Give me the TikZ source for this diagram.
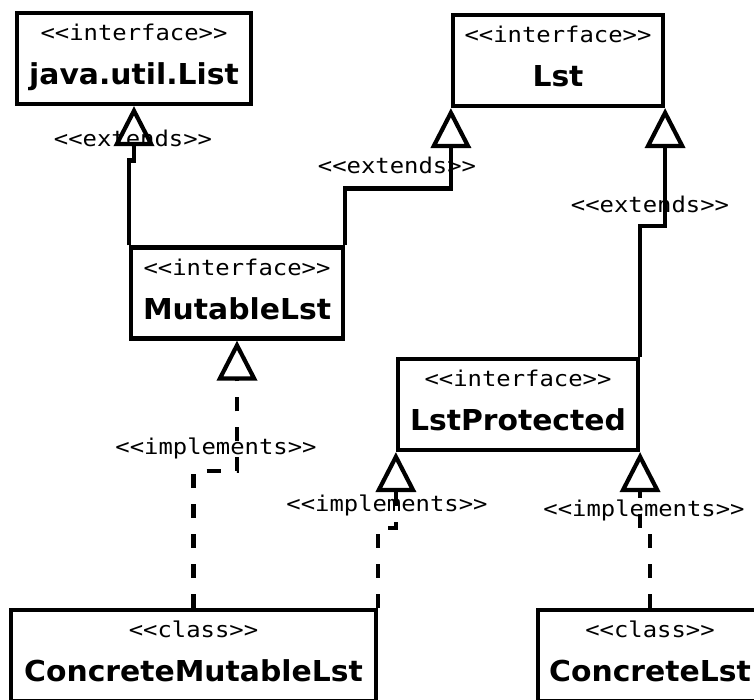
\documentclass[tikz,border=0pt]{standalone}
\usepackage{fontspec}
\newfontfamily\stereofont[FakeStretch=1.1]{DejaVu Sans Mono}
\newfontfamily\namefont[FakeStretch=1.035]{DejaVu Sans}
\usetikzlibrary{arrows.meta}

\newcommand\umltext[2]{{\stereofont <<#1>>}\\[4pt]{\namefont\bfseries\fontsize{28.8}{40}\selectfont #2}}

\tikzset{
  umlbox/.style={draw, line width=4.2pt, inner sep=0pt, align=center,
    minimum height=91pt, text depth=8pt,
    font=\stereofont\fontsize{21.7}{40}\selectfont},
  rellabel/.style={font=\stereofont\fontsize{21.7}{24}\selectfont, inner sep=0pt},
  relation/.style={line width=4.2pt,
    -{Triangle[open,length=40pt,width=40pt,line width=4.2pt]}},
  extends/.style={relation},
  implements/.style={relation, dash pattern=on 14pt off 16pt},
}

\begin{document}
\begin{tikzpicture}[x=1pt, y=-1pt]
  \useasboundingbox (0,0) rectangle (754,699);
  \fill[white] (0,0) rectangle (754,699);

  % interfaces
  \node[umlbox, minimum width=234pt] (jlist) at (134,58.5) {\umltext{interface}{java.util.List}};
  \node[umlbox, minimum width=210pt] (lst) at (558,60.5) {\umltext{interface}{Lst}};
  \node[umlbox, minimum width=212pt] (mutable) at (237,293) {\umltext{interface}{MutableLst}};
  \node[umlbox, minimum width=240pt] (lstprot) at (518,404.5) {\umltext{interface}{LstProtected}};

  % classes
  \node[umlbox, minimum width=365pt] (cmut) at (193.5,655.5) {\umltext{class}{ConcreteMutableLst}};
  \node[umlbox, minimum width=224pt] (clst) at (650,655.5) {\umltext{class}{ConcreteLst}};

  % extends
  \draw[extends] (mutable.north west) -- ++(0,-85) -| (jlist.south);
  \draw[extends] (mutable.north east) -- ++(0,-57) -| (lst.south west);
  \draw[extends] (lstprot.north east) -- ++(0,-131) -| (lst.south east);

  % implements
  \draw[implements] (cmut.north) -- ++(0,-137) -| (mutable.south);
  \draw[implements] (cmut.north east) -- ++(0,-80) -| (lstprot.south west);
  \draw[implements] (clst.north) -- ++(0,-77) -| (lstprot.south east);

  \node[rellabel] (ext1) at (133,138) {<<extends>>};
  \node[rellabel] (ext2) at (397,165) {<<extends>>};
  \node[rellabel] (ext3) at (650,204) {<<extends>>};
  \node[rellabel] (impl1) at (216,448) {<<implements>>};
  \node[rellabel] (impl2) at (387,505) {<<implements>>};
  \node[rellabel] (impl3) at (644,510) {<<implements>>};
\end{tikzpicture}
\end{document}
